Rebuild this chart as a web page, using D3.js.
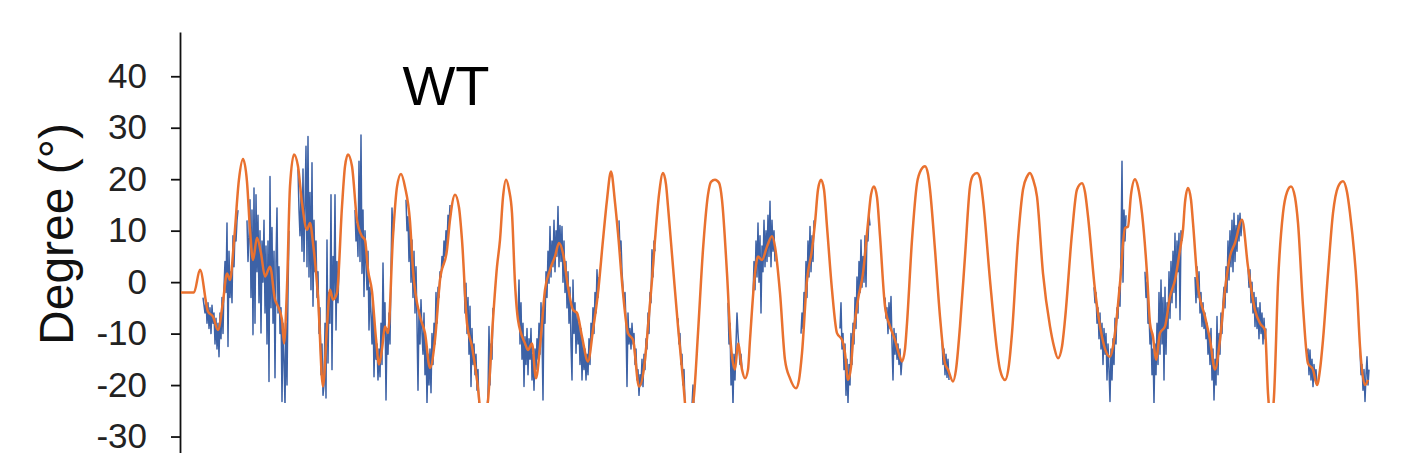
<!DOCTYPE html>
<html>
<head>
<meta charset="utf-8">
<script src="https://cdn.jsdelivr.net/npm/d3@7"></script>
<style>
    body { margin: 0; background: #fff; }
    .axis text { font-family: "Liberation Sans", Arial, sans-serif; font-size: 35px; fill: #222; }
    .axis path, .axis line { stroke: #111; stroke-width: 1.8; }
    .axis-label { font-family: "Liberation Sans", Arial, sans-serif; font-size: 48px; fill: #111; }
    .title { font-family: "Liberation Sans", Arial, sans-serif; font-size: 56px; fill: #000; }
</style>
</head>
<body>
<div id="chart"></div>
<script>

// y axis ticks (degrees)
const yTicks = [-30, -20, -10, 0, 10, 20, 30, 40];

// smoothed angle trace: [frame, degree]
const smoothed = [
    [0,-2],[13,-2],[19,2.4],[27,-5.7],[32,-6.7],[37,-9.3],[42,-3.8],[46,1.7],[49,0.4],[53,7.9],[58,20],[62,23.9],[66,19.5],
    [69,10.2],[72,4.3],[76,8.6],[80,5.6],[84,1.1],[89,3.0],[94,-3.4],[97,-4.7],[101,-7.3],[103,-11.9],[106,-1],[109,18.6],
    [113,24.8],[117,22.5],[121,15.4],[126,10.2],[129,11.5],[132,7.6],[137,-2.8],[142,-20.3],[146,-8.6],[149,-1.5],[152,-3.4],
    [156,-2.1],[161,14.7],[164,22.5],[167,24.8],[171,22.5],[176,12.1],[181,8.9],[184,8.2],[187,2.4],[191,-1.8],[195,-11],
    [198,-16],[201,-13],[204,-8.6],[207,-9.9],[212,8.9],[216,18.5],[220,21],[224,18.5],[229,11.8],[232,2.4],[239,-6.7],
    [244,-9.9],[249,-16.7],[254,-11.2],[259,0.4],[266,6.3],[269,12.1],[274,17],[278,14.5],[281,8.2],[286,-8],[291,-12.5],
    [296,-19],[302,-28],[307,-23],[312,-7.3],[316,3],[319,8.2],[322,16.5],[325,19.9],[328,18],[331,13.4],[334,-0.2],
    [337,-7.3],[344,-11.9],[347,-13.2],[351,-11.9],[355,-18.7],[359,-12.5],[364,-1.5],[369,2.4],[374,5],[378,7.6],[382,5.6],
    [387,-0.9],[392,-5.4],[396,-6],[401,-10.6],[407,-15.4],[412,-9.3],[417,-2.1],[422,8.2],[426,16],[430,21.5],[434,15.5],
    [437,9.5],[442,-2.1],[447,-9.9],[452,-11.2],[458,-20.3],[464,-15.1],[467,-8.6],[471,0.4],[474,8.2],[478,17],[482,21.2],
    [485,19],[487,14.7],[492,3],[497,-8.6],[502,-19],[507,-28],[513,-22],[517,-9.9],[522,6.3],[527,17],[530,19.5],[534,19.9],
    [538,19.3],[541,16],[546,1.7],[550,-12.5],[554,-17],[557,-11.9],[561,-17],[564,-18.7],[567,-17],[569,-11.2],[574,1.7],
    [577,5],[581,4.3],[586,6.9],[591,8.9],[594,6.9],[599,-2.1],[604,-15.1],[609,-18.7],[615,-20.6],[618,-19],[621,-13.8],
    [626,0.4],[631,6.3],[634,11.5],[637,18],[640,19.9],[643,18],[646,10.8],[651,-1.5],[656,-9.9],[661,-11.2],[664,-13.8],
    [667,-19],[670,-16.5],[672,-11.2],[677,-3.4],[682,1.7],[687,11.5],[690,17],[693,18.6],[696,16.5],[699,9],[704,-4.7],
    [709,-8.6],[714,-11.2],[718,-14],[721,-15.4],[724,-13],[726,-8],[731,8.2],[736,19.2],[740,21.8],[744,22.5],[747,21],
    [749,18],[754,6.3],[759,-6.7],[764,-15.8],[767,-17],[772,-19.3],[775,-17],[779,-8.6],[784,5],[789,18.6],[792,20.7],
    [796,21.2],[799,20.2],[802,16],[809,0.4],[816,-13.2],[819,-17],[824,-19],[828,-16],[831,-9.9],[837,8.2],[842,18],
    [846,20.5],[849,21.2],[852,20],[856,16.6],[862,1.7],[869,-8.6],[873,-12.5],[877,-14.8],[881,-12.5],[884,-7.3],[891,9.5],
    [896,18],[901,19.2],[904,17.5],[907,12.8],[914,-1.5],[921,-10.6],[925,-13.5],[929,-14.5],[932,-12.5],[934,-9.9],
    [939,-0.2],[944,10.5],[947,10.8],[950,17],[954,20],[957,18.5],[961,13.4],[966,1.7],[969,-8],[972,-10.6],[975,-15.1],
    [979,-9.9],[984,-8.6],[989,-2.8],[994,0.4],[999,6.3],[1002,10.2],[1004,15.5],[1007,18.3],[1010,16],[1012,11.5],
    [1017,-0.9],[1024,-6.7],[1029,-11.2],[1034,-17],[1039,-11.2],[1044,-1.5],[1049,5],[1054,7.6],[1061,12.1],[1067,3],
    [1074,-5.4],[1079,-8],[1084,-9.3],[1087,-21.6],[1090,-27],[1093,-22.2],[1097,-0.2],[1102,13.4],[1106,17.5],[1110,18.6],
    [1114,16.5],[1117,11.5],[1122,-4.7],[1127,-15.8],[1132,-17],[1136,-20],[1139,-17],[1142,-11.2],[1147,1.7],[1152,13.4],
    [1157,18.5],[1162,19.6],[1166,17.5],[1169,13.4],[1176,-1.5],[1179,-12.5],[1184,-20],[1187,-19]
];

// raw angle trace (noisy parts, null = gap): [frame, degree]
const raw = [
    [22,-3],[24,-6],[25,-3.5],[26,-8],[27,-4],[28,-9],[29,-5],[30,-10],[31,-4.5],[32,-8],[33,-6],[34,-12],[35,-7],[36,-13],
    [37,-8],[38,-14.5],[39,-6],[40,-11],[41,-3],[42,-10],[43,-1],[44,4],[45,-2],[46,11.5],[47,-12.5],[48,6],[49,-3],[50,2],
    [51,-4],[52,9],[53,3],[54,10],[55,8],[56,12],[57,14],
    null,
    [66,12],[67,4],[68,9],[69,16],[70,-3],[71,14],[72,-10.2],[73,18.3],[74,-8],[75,17],[76,2],[77,13],[78,-4],[79,10],
    [80,-9.9],[81,8],[82,0],[83,12],[84,-6],[85,7],[86,-12],[87,8],[88,-19.3],[89,20.5],[90,-5],[91,10.6],[92,-8],[93,6],
    [94,-18.6],[95,4],[96,14.4],[97,-6],[98,3],[99,-10],[100,-5],[101,-23.2],[102,-8],[103,-15],[104,-24],[105,-8],
    [106,-20],[107,-2],[108,10],
    null,
    [117,22],[118,14],[119,9],[120,17],[121,6],[122,22],[123,4],[124,15],[125,26.4],[126,3],[127,28.3],[128,1],[129,17.4],
    [130,-1.5],[131,23.2],[132,-4.7],[133,12],[134,2],[135,8],[136,-3],[137,2],[138,-10],[139,-5],[140,-18],[141,-12],
    [142,-22],[143,-20],[144,-8],[145,-22.5],[146,8.2],[147,-15.7],[148,-2],[149,-8],[150,17],[151,-17],[152,5],[153,-3],
    [154,17],[155,-9.3],[156,4],[157,-4],[158,3],
    null,
    [174,14],[175,8],[176,11.5],[177,5],[178,23.5],[179,4],[180,28.6],[181,1.7],[182,14],[183,-2.8],[184,10],[185,4],
    [186,-1.5],[187,6],[188,-9.3],[189,-1],[190,-6],[191,-12],[192,-4],[193,-18.4],[194,-9],[195,-15],[196,-12],[197,-19],
    [198,-13],[199,-18.4],[200,-8],[201,-16],[202,3.7],[203,-10],[204,-4],[205,-22.9],[206,-9],[207,-14],[208,-6],[209,-12],
    [210,2],[211,14.4],[212,8.9],[213,12],
    null,
    [225,16],[226,10],[227,12.7],[228,4],[229,12],[230,0],[231,8.2],[232,-3],[233,6],[234,-6],[235,3],[236,-8],[237,-21],
    [238,-5.4],[239,-12],[240,-3.4],[241,-10],[242,-14],[243,-6],[244,-18],[245,-11],[246,-23.5],[247,-14],[248,-20],
    [249,-13],[250,-21.5],[251,-10],[252,-16],[253,-8],[254,-12],[255,-2],[256,-8],[257,-1],[258,-3],[259,2],[260,1],
    [261,5],[262,3],[263,8],[264,5],[265,10],[266,7],[267,13],[268,11],[269,15],
    null,
    [283,2],[284,-6],[285,-0.2],[286,-10],[287,-3],[288,-14],[289,-4.7],[290,-20.3],[291,-9],[292,-16],[293,-12],[294,-18],
    [295,-14],[296,-21],[297,-17],[298,-25],
    null,
    [306,-25],[307,-22],[308,-8.6],[309,-20],[310,-12],[311,-15],[312,-5],
    null,
    [337,-7],[338,0.4],[339,-12],[340,-4],[341,-15],[342,-8],[343,-20.3],[344,-10.6],[345,-16],[346,-9],[347,-18],[348,-11],
    [349,-15],[350,-9],[351,-19],[352,-14],[353,-21],[354,-13],[355,-17],[356,-11],[357,-15],[358,-8],[359,-14],[360,-4],
    [361,-10],[362,-22.9],[363,-3],[364,-8],[365,2],[366,-3],[367,6],[368,-0.2],[369,10.8],[370,1],[371,8],[372,3],[373,12],
    [374,2],[375,10],[376,5],[377,14.7],[378,3],[379,11],[380,4],[381,10.8],[382,0],[383,8],[384,-2],[385,4],[386,-5],
    [387,2],[388,-8],[389,-1],[390,-12],[391,-19],[392,0.4],[393,-10],[394,-4],[395,-13.8],[396,-6],[397,-12],[398,-8],
    [399,-16],[400,-9],[401,-19],[402,-12],[403,-17],[404,-13],[405,-19],[406,-14],[407,-18],[408,-11],[409,-16],[410,-8],
    [411,-11],[412,-5],[413,-10],[414,-2],[415,-6],[416,2.4],[417,-3],[418,1],
    null,
    [438,12],[439,6],[440,8],[441,2],[442,-1],[443,-4],[444,-2],[445,-8],[446,-20.3],[447,-6],[448,-12],[449,-9],[450,-13],
    [451,-8],[452,-12],[453,-10],[454,-16],[455,-13],[456,-19],[457,-17],[458,-22],[459,-18],[460,-20],[461,-15],[462,-20.3],
    [463,-14],[464,-17],[465,-11],[466,-13],[467,-6],[468,-10],[469,-2],[470,-4],[471,6.3],[472,1],[473,8],[474,6],
    null,
    [497,-7],[498,-12],[499,-10],[500,-16],[501,-14],[502,-20],[503,-17],[504,-24],
    null,
    [511,-24],[512,-20],[513,-24],
    null,
    [547,-4],[548,-12],[549,-8],[550,-20],[551,-15],[552,-24],[553,-14],[554,-19],[555,-12],[556,-6],[557,-10],[558,-13],
    [559,-16],[560,-14],[561,-17],
    null,
    [572,-3],[573,4],[574,-1.5],[575,8],[576,1],[577,11.5],[578,0],[579,9],[580,-6],[581,7],[582,2],[583,12],[584,3],
    [585,10],[586,4],[587,13],[588,5],[589,15.7],[590,3],[591,12],[592,6],[593,10],[594,4],
    null,
    [620,-10],[621,-6],[622,-9],[623,-2],[624,-5],[625,4],[626,-3],[627,8],[628,1],[629,10.8],[630,2],[631,9],[632,4],[633,12],
    null,
    [659,-9],[660,-4],[661,-13],[662,-10],[663,-17],[664,-12],[665,-22],[666,-15],[667,-23.5],[668,-16],[669,-20],[670,-10],
    [671,-16],[672,-8],[673,-12],[674,-3],[675,-9],[676,1],[677,-6],[678,4],[679,-2],[680,8.2],[681,-1],[682,5],[683,0],
    [684,9],[685,-0.9],[686,10],[687,8],[688,13],[689,11],
    null,
    [704,-3],[705,-7],[706,-5],[707,-10],[708,-4],[709,-9],[710,-2.8],[711,-12],[712,-19],[713,-9],[714,-14],[715,-10],
    [716,-15],[717,-12],[718,-16],[719,-13],[720,-18],[721,-15],
    null,
    [761,-11],[762,-16],[763,-13],[764,-18],[765,-14],[766,-18.5],[767,-15],[768,-19],
    null,
    [913,-1],[914,-4],[915,-2],[916,-8],[917,-5],[918,-11],[919,-6],[920,-13],[921,-8],[922,-16],[923,-9],[924,-14],
    [925,-10],[926,-19],[927,-12],[928,-17],[929,-23.2],[930,-13],[931,-19],[932,-11],[933,-16],[934,-7],[935,-12],[936,-5],
    [937,-7],[938,-1],[939,-4.7],[940,6],[941,23.5],[942,0],[943,14],[944,8],[945,13],
    null,
    [964,2],[965,-3],[966,0],[967,-8],[968,-6],[969,-12],[970,-9],[971,-18],[972,-13],[973,-23.5],[974,-12],[975,-18],
    [976,-8],[977,-16],[978,-2],[979,-14],[980,0.4],[981,-12],[982,-3],[983,-19],[984,-1],[985,-14],[986,-4],[987,-9],
    [988,2],[989,-7],[990,4],[991,-4],[992,6],[993,-2],[994,9.5],[995,-5],[996,8],[997,2],[998,9.5],[999,-7.3],[1000,10],
    [1001,8],
    null,
    [1014,1],[1015,-4],[1016,3],[1017,-3],[1018,2],[1019,-6],[1020,-2],[1021,-8.6],[1022,-4],[1023,-9],[1024,-6],[1025,-11],
    [1026,-8],[1027,-14],[1028,-10],[1029,-16],[1030,-9],[1031,-19],[1032,-13],[1033,-22.9],[1034,-15],[1035,-20],
    [1036,-6.7],[1037,-18],[1038,-10],[1039,-14],[1040,-6],[1041,-10],[1042,-4],[1043,-1],[1044,-5],[1045,3],[1046,-2],
    [1047,8],[1048,0.4],[1049,10],[1050,3],[1051,12],[1052,2],[1053,13.4],[1054,4],[1055,11],[1056,6],[1057,13],[1058,8],
    [1059,13.4],[1060,9],[1061,12],
    null,
    [1067,3],[1068,-1],[1069,2.4],[1070,-4],[1071,0],[1072,-6],[1073,-2],[1074,-8.6],[1075,-3],[1076,-9],[1077,-5],
    [1078,-11],[1079,-4],[1080,-10],[1081,-6],[1082,-12],[1083,-7],[1084,-11],[1085,-9],
    null,
    [1126,-14],[1127,-13],[1128,-18],[1129,-13.2],[1130,-19],[1131,-15],[1132,-20.3],[1133,-16],[1134,-19],[1135,-17],[1136,-20],
    null,
    [1179,-13],[1180,-18],[1181,-16],[1182,-21],[1183,-17],[1184,-23.2],[1185,-18],[1186,-14.5],[1187,-20],[1188,-17]
];

const title = "WT";
const yLabel = "Degree (°)";


class TraceVis {

    constructor(parentElement, smoothData, rawData) {
        this.parentElement = parentElement;
        this.smoothData = smoothData;
        this.rawData = rawData;

        this.initVis();
    }

    initVis() {
        let vis = this;

        vis.width = 1420;
        vis.height = 453;

        vis.svg = d3.select("#" + vis.parentElement).append("svg")
            .attr("width", vis.width)
            .attr("height", vis.height);

        // scales
        vis.x = d3.scaleLinear()
            .domain([0, 1190])
            .range([181, 1371]);

        vis.y = d3.scaleLinear()
            .domain([-33.2, 48.6])
            .range([453, 32]);

        // the traces get cut off below this angle
        vis.svg.append("clipPath")
            .attr("id", "plot-clip")
            .append("rect")
            .attr("x", 181)
            .attr("y", 0)
            .attr("width", 1239)
            .attr("height", vis.y(-23.5));

        // y axis, plain hyphen for negatives like the original
        vis.yAxis = d3.axisLeft(vis.y)
            .tickValues(yTicks)
            .tickFormat(d => String(d))
            .tickSize(9)
            .tickSizeOuter(0)
            .tickPadding(24);

        vis.svg.append("g")
            .attr("class", "axis y-axis")
            .attr("transform", "translate(180,0)")
            .call(vis.yAxis);

        vis.svg.append("text")
            .attr("class", "axis-label")
            .attr("text-anchor", "middle")
            .attr("transform", "translate(73, 234) rotate(-90)")
            .text(yLabel);

        vis.svg.append("text")
            .attr("class", "title")
            .attr("text-anchor", "middle")
            .attr("x", 446)
            .attr("y", 105)
            .text(title);

        vis.plot = vis.svg.append("g")
            .attr("clip-path", "url(#plot-clip)");

        vis.wrangleData();
    }

    wrangleData() {
        let vis = this;
        // nothing to filter, traces are plotted as read
        vis.updateVis();
    }

    updateVis() {
        let vis = this;

        let rawLine = d3.line()
            .defined(d => d !== null)
            .x(d => vis.x(d[0]))
            .y(d => vis.y(d[1]));

        let smoothLine = d3.line()
            .x(d => vis.x(d[0]))
            .y(d => vis.y(d[1]))
            .curve(d3.curveMonotoneX);

        vis.plot.append("path")
            .datum(vis.rawData)
            .attr("class", "raw")
            .attr("fill", "none")
            .attr("stroke", "#3d62a6")
            .attr("stroke-width", 1.5)
            .attr("stroke-linejoin", "round")
            .attr("d", rawLine);

        vis.plot.append("path")
            .datum(vis.smoothData)
            .attr("class", "smooth")
            .attr("fill", "none")
            .attr("stroke", "#e9712f")
            .attr("stroke-width", 2.5)
            .attr("stroke-linejoin", "round")
            .attr("d", smoothLine);
    }
}

new TraceVis("chart", smoothed, raw);

</script>
</body>
</html>
